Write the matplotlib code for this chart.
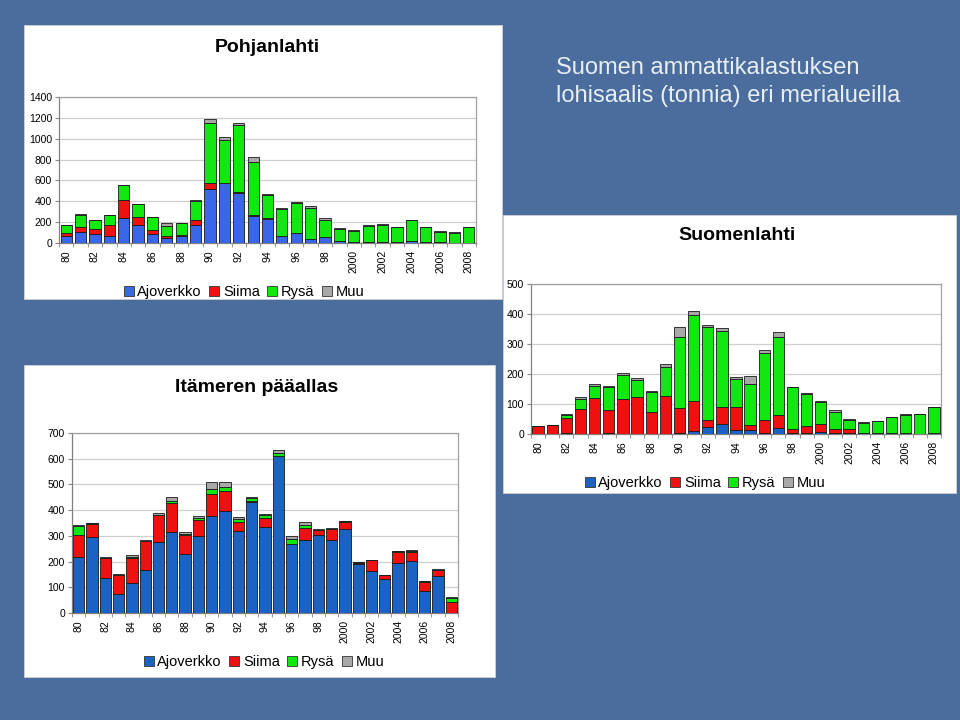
import numpy as np
import matplotlib
matplotlib.use('Agg')
import matplotlib.pyplot as plt
from matplotlib.patches import Rectangle, Patch

plt.rcParams['font.family'] = ['Liberation Sans', 'DejaVu Sans']

years = list(range(1980, 2009))
yearLabels = [str(y)[2:] if y < 2000 else str(y) for y in years]
series = ["Ajoverkko", "Siima", "Rysä", "Muu"]

# Pohjanlahti (tonnia)
pohAjo  = [68, 102, 86, 67, 243, 173, 90, 51, 67, 170, 515, 576, 480, 262, 232,
           65, 92, 40, 56, 18, 10, 12, 8, 8, 20, 10, 5, 4, 3]
pohSiima = [25, 48, 48, 106, 170, 73, 35, 13, 5, 51, 58, 3, 6, 6, 4,
            3, 2, 2, 2, 1, 1, 1, 1, 1, 1, 1, 0, 0, 0]
pohRysa = [77, 122, 82, 96, 141, 125, 121, 99, 117, 186, 576, 413, 644, 512, 225,
           255, 285, 290, 165, 118, 104, 150, 168, 140, 196, 140, 104, 94, 147]
pohMuu  = [5, 4, 3, 3, 2, 4, 3, 26, 5, 3, 41, 29, 25, 41, 12,
           10, 15, 23, 14, 7, 10, 7, 5, 6, 6, 6, 3, 4, 4]

# Suomenlahti (tonnia)
suoAjo  = [0, 0, 3, 1, 1, 4, 1, 1, 1, 1, 5, 9, 25, 33, 14,
           14, 2, 19, 2, 3, 8, 3, 5, 1, 1, 1, 1, 1, 1]
suoSiima = [28, 30, 52, 81, 118, 76, 116, 121, 73, 126, 81, 102, 23, 56, 76,
            17, 44, 43, 16, 24, 24, 14, 12, 2, 1, 1, 1, 0, 1]
suoRysa = [0, 0, 8, 35, 42, 78, 79, 59, 65, 95, 236, 287, 308, 253, 92,
           137, 223, 260, 138, 107, 75, 56, 30, 34, 40, 54, 62, 65, 88]
suoMuu  = [0, 1, 4, 5, 5, 3, 8, 5, 5, 12, 36, 12, 7, 10, 9,
           25, 11, 19, 2, 2, 3, 6, 3, 3, 0, 2, 3, 1, 1]

# Itämeren pääallas (tonnia)
itaAjo  = [218, 294, 136, 74, 115, 169, 275, 314, 228, 298, 377, 398, 319, 433, 333,
           609, 268, 283, 302, 283, 326, 192, 165, 131, 196, 204, 84, 144, 1]
itaSiima = [84, 54, 77, 73, 99, 110, 105, 115, 77, 63, 85, 78, 35, 3, 37,
            3, 2, 46, 20, 43, 29, 4, 40, 15, 43, 33, 38, 22, 42]
itaRysa = [38, 1, 1, 2, 5, 1, 3, 8, 4, 9, 20, 13, 10, 10, 11,
           10, 16, 13, 2, 1, 1, 1, 0, 1, 1, 6, 1, 1, 14]
itaMuu  = [4, 2, 3, 4, 7, 3, 5, 14, 5, 8, 29, 22, 11, 6, 4,
           12, 14, 12, 2, 2, 3, 3, 2, 2, 3, 3, 3, 3, 7]

bgColor = '#4a6d9d'
redColor = '#f01010'
greenColor = '#10e810'
greyColor = '#a8a8a8'


def box(x0, y0, x1, y1):
    # pixel box (top-left origin) -> figure fraction
    return [x0/960, 1 - y1/720, (x1 - x0)/960, (y1 - y0)/720]


def panel(fig, x0, y0, x1, y1):
    b = box(x0, y0, x1, y1)
    fig.add_artist(Rectangle((b[0], b[1]), b[2], b[3], transform=fig.transFigure,
                             facecolor='white', edgecolor='#d0d0d0', lw=0.6, zorder=0))


def stackedChart(fig, plotBox, title, titleXY, legXY, data, ymax, ystep, blue, width):
    ax = fig.add_axes(box(*plotBox))
    x = np.arange(len(years))
    colors = [blue, redColor, greenColor, greyColor]
    bottom = np.zeros(len(years))
    for vals, c in zip(data, colors):
        vals = np.array(vals, dtype=float)
        ax.bar(x, vals, width, bottom=bottom, color=c, edgecolor='#1a1a1a', lw=0.6, zorder=3)
        bottom += vals

    ax.set_xlim(-0.5, len(years) - 0.5)
    ax.set_ylim(0, ymax)
    ax.set_yticks(np.arange(0, ymax + 1, ystep))
    ax.yaxis.grid(True, color='#cfcfcf', lw=0.9, zorder=0)
    ax.set_axisbelow(True)
    ax.set_xticks(x[::2])
    ax.set_xticklabels(yearLabels[::2], rotation=90, fontsize=7.5)
    ax.set_xticks(np.arange(-0.5, len(years), 1), minor=True)
    ax.tick_params(axis='x', which='major', length=0, pad=5)
    ax.tick_params(axis='x', which='minor', length=3, color='#888888')
    ax.tick_params(axis='y', length=3, color='#888888', labelsize=7.5, pad=2)
    for s in ax.spines.values():
        s.set_color('#a0a0a0')
        s.set_linewidth(0.9)
    ax.spines['left'].set_color('#808080')
    ax.spines['bottom'].set_color('#808080')

    fig.text(titleXY[0]/960, 1 - titleXY[1]/720, title, ha='center', va='center',
             fontsize=14, fontweight='bold', color='black')
    handles = [Patch(facecolor=c, edgecolor='#333333', lw=0.6) for c in colors]
    fig.legend(handles, series, loc='center', bbox_to_anchor=(legXY[0]/960, 1 - legXY[1]/720),
               ncol=4, frameon=False, fontsize=10.5, handlelength=0.7, handleheight=0.7,
               handletextpad=0.25, columnspacing=0.5, borderpad=0.1)
    return ax


fig = plt.figure(figsize=(9.6, 7.2), dpi=100)
fig.patch.set_facecolor(bgColor)

panel(fig, 24, 25, 502, 299)
panel(fig, 503, 215, 956, 493)
panel(fig, 24, 365, 495, 677)

stackedChart(fig, (59, 97, 476, 243), "Pohjanlahti", (267, 48), (244, 292),
             [pohAjo, pohSiima, pohRysa, pohMuu], 1400, 200, '#3a66ea', 0.78)
stackedChart(fig, (531, 284, 941, 434), "Suomenlahti", (737, 236), (705, 483),
             [suoAjo, suoSiima, suoRysa, suoMuu], 500, 100, '#1a62c4', 0.8)
stackedChart(fig, (72, 433, 458, 613), "Itämeren pääallas", (257, 388), (264, 662),
             [itaAjo, itaSiima, itaRysa, itaMuu], 700, 100, '#1a62c4', 0.85)

fig.text(556/960, 1 - 68/720, "Suomen ammattikalastuksen", ha='left', va='center',
         fontsize=17, color='#e8eef6')
fig.text(556/960, 1 - 96/720, "lohisaalis (tonnia) eri merialueilla", ha='left', va='center',
         fontsize=17, color='#e8eef6')

fig.savefig('out.png', dpi=100, facecolor=fig.get_facecolor())
